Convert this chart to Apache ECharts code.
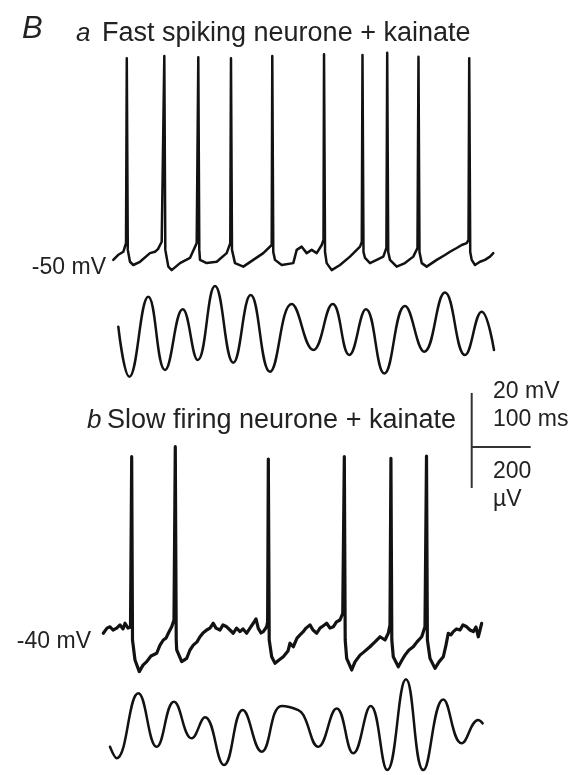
<!DOCTYPE html>
<html>
<head>
<meta charset="utf-8">
<script src="https://cdn.jsdelivr.net/npm/echarts@6/dist/echarts.min.js"></script>
<style>
  html, body { margin: 0; padding: 0; background: #fff; }
  #chart { width: 577px; height: 775px; }
</style>
</head>
<body>
<div id="chart"></div>
<script>
// Membrane potential (ms, mV) of a fast spiking neurone in kainate
const fastVm = [
  [22.5,-48.1],[30.5,-46.3],[39.5,-45.1],[44.1,-41.9],[45.4,26.6],[47.1,-44.4],
  [50.8,-48.8],[56.4,-50.0],[67.8,-48.8],[84.7,-45.6],[93.2,-45.1],[98.3,-44.1],
  [104.6,-41.4],[109.0,27.4],[110.7,-44.4],[115.8,-50.6],[121.5,-51.9],[135.6,-49.3],
  [152.5,-47.4],[163.9,-41.9],[166.6,26.9],[168.3,-44.4],[169.5,-48.1],[180.8,-49.3],
  [197.8,-48.8],[214.7,-45.6],[220.8,-41.9],[222.0,26.6],[223.7,-44.4],[228.8,-49.3],
  [242.9,-50.6],[259.8,-48.1],[276.8,-45.6],[291.0,-42.6],[292.0,27.4],[293.7,-45.2],
  [296.6,-48.1],[308.0,-50.0],[327.6,-49.3],[333.4,-44.4],[341.9,-43.2],[350.3,-45.6],
  [358.8,-44.4],[367.3,-45.6],[375.8,-42.6],[378.8,-40.7],[379.7,28.1],[381.4,-45.2],
  [384.2,-49.3],[392.7,-51.9],[406.8,-50.0],[423.7,-46.9],[440.7,-43.2],[443.7,-41.5],
  [444.9,27.8],[446.6,-45.2],[449.2,-47.4],[457.6,-49.3],[469.0,-48.1],[480.2,-46.9],
  [485.4,-43.7],[486.8,28.6],[488.5,-45.2],[491.5,-48.1],[502.9,-50.6],[516.9,-49.3],
  [531.0,-46.9],[538.1,-43.7],[539.8,27.1],[541.5,-45.2],[545.3,-49.3],[553.7,-50.6],
  [570.7,-48.1],[584.7,-46.3],[593.2,-45.1],[604.6,-43.7],[613.1,-42.6],[621.5,-41.9],
  [624.6,-40.7],[625.8,26.6],[627.5,-45.2],[630.0,-48.1],[635.6,-50.0],[644.1,-48.8],
  [652.5,-48.1],[661.0,-46.9],[666.6,-45.6]
];

// Field potential (ms, µV) recorded alongside the fast spiking neurone
const fastField = [
  [31.0,31],[49.7,-213],[81.9,177],[110.2,-180],[140.2,116],[165.6,-132],
  [194.9,229],[225.9,-145],[255.4,185],[288.1,-189],[324.9,141],[361.5,-83],
  [394.4,141],[422.5,-107],[450.8,116],[481.9,-197],[516.9,132],[549.7,-91],
  [584.7,197],[618.6,-107],[646.9,104],[667.8,-83]
];

// Membrane potential (ms, mV) of a slow firing neurone in kainate
const slowVm = [
  [5.6,-37.5],[11.9,-35.6],[16.9,-35.1],[22.0,-36.3],[28.3,-35.6],[33.9,-34.4],
  [39.0,-35.9],[42.4,-33.8],[47.5,-35.6],[51.7,-35.2],[53.7,27.9],[55.1,-40.0],
  [59.3,-47.4],[66.6,-51.7],[72.9,-49.3],[79.2,-48.0],[86.4,-45.9],[96.1,-44.9],
  [101.7,-41.9],[107.3,-40.0],[111.9,-39.3],[115.8,-37.5],[121.5,-35.1],[125.4,-32.6],
  [127.6,31.6],[129.2,-40.0],[130.0,-43.7],[138.5,-48.0],[146.9,-46.8],[152.5,-43.7],
  [158.1,-41.9],[164.4,-40.7],[169.5,-38.8],[174.6,-37.4],[180.8,-36.3],[186.4,-35.6],
  [192.0,-33.8],[196.6,-35.6],[203.4,-36.3],[208.5,-34.4],[214.7,-35.1],[220.3,-36.3],
  [225.9,-37.5],[231.4,-35.6],[237.3,-36.9],[242.4,-35.9],[248.6,-37.5],[254.2,-35.6],
  [259.8,-33.8],[264.4,-32.2],[268.3,-35.7],[272.9,-37.4],[276.8,-36.9],[282.5,-35.1],
  [284.1,-33.3],[285.3,27.0],[286.8,-40.0],[291.0,-46.2],[296.6,-48.6],[303.4,-47.4],
  [310.7,-46.2],[318.6,-44.1],[322.0,-41.2],[327.6,-42.5],[333.9,-39.3],[339.0,-38.1],
  [344.1,-37.0],[349.2,-35.6],[355.9,-34.4],[361.0,-36.3],[367.3,-37.5],[372.9,-35.6],
  [378.0,-34.8],[384.2,-33.8],[389.8,-35.6],[395.4,-35.1],[400.8,-33.3],[406.8,-32.6],
  [411.4,-30.1],[414.1,27.9],[415.6,-40.0],[418.1,-46.8],[426.6,-51.1],[432.2,-48.1],
  [440.7,-45.6],[447.5,-44.4],[457.6,-42.5],[466.1,-40.7],[474.6,-38.8],[483.1,-40.0],
  [488.6,-37.5],[491.5,-34.4],[493.1,27.3],[494.6,-40.0],[497.1,-46.2],[505.6,-49.9],
  [511.9,-47.4],[516.9,-45.6],[523.7,-43.7],[531.0,-42.5],[537.3,-40.7],[545.3,-38.8],
  [550.8,-35.1],[553.4,28.1],[554.9,-40.0],[559.3,-46.8],[567.8,-50.5],[574.6,-48.1],
  [581.9,-46.2],[586.4,-41.9],[590.3,-37.5],[594.9,-38.1],[598.8,-36.9],[604.2,-35.9],
  [610.2,-36.3],[615.3,-34.4],[621.5,-35.1],[627.1,-36.3],[632.7,-36.9],[637.3,-35.2],
  [641.2,-38.8],[644.1,-36.3],[646.9,-33.8]
];

// Field potential (ms, µV) recorded alongside the slow firing neurone
const slowField = [
  [16.9,-106],[28.3,-162],[64.9,155],[96.1,-106],[125.4,114],[155.4,-65],
  [178.0,38],[210.2,-195],[241.9,73],[274.1,-130],[308.0,93],[336.1,73],
  [344.6,49],[370.0,-106],[401.2,81],[429.3,-138],[458.8,93],[486.9,-220],
  [518.6,223],[548.0,-220],[581.9,125],[613.1,-89],[641.2,24],[648.6,8]
];

// Text
const panelLetter = 'B';
const traceTitles = [
  ['a', 'Fast spiking neurone + kainate'],
  ['b', 'Slow firing neurone + kainate']
];
const holdingLabels = ['-50 mV', '-40 mV'];
const holdingLevels = [-50, -40];
const scaleLabels = ['20 mV', '100 ms', '200', 'µV'];
const scaleValues = { mV: 20, ms: 100, uV: 200 };

// Drawing scales (pixels per unit) and panel layout
const MS_PX = 0.59, MV_PX = 2.7, UV_PX = 0.205;
const LEFT = 100, T_MAX = 680;
const VM_A = { min: -60, max: 30, top: 49 };
const FIELD_A = { min: -250, max: 250, top: 281.75 };
const VM_B = { min: -60, max: 40, top: 424 };
const FIELD_B = { min: -250, max: 250, top: 673.75 };

const FONT = '"Liberation Sans", Arial, Helvetica, sans-serif';
const INK = '#121212';
const TEXT = '#222222';

function gridFor(p, pxPerUnit) {
  return {
    left: LEFT, top: p.top,
    width: T_MAX * MS_PX, height: (p.max - p.min) * pxPerUnit,
    outerBoundsMode: 'none', containLabel: false
  };
}

const panels = [
  { p: VM_A, k: MV_PX, data: fastVm, w: 2.5 },
  { p: FIELD_A, k: UV_PX, data: fastField, w: 2.5, smooth: 0.45 },
  { p: VM_B, k: MV_PX, data: slowVm, w: 3.2 },
  { p: FIELD_B, k: UV_PX, data: slowField, w: 2.5, smooth: 0.45 }
];

const chart = echarts.init(document.getElementById('chart'), null, { renderer: 'canvas' });

chart.setOption({
  animation: false,
  backgroundColor: '#ffffff',
  grid: panels.map(d => gridFor(d.p, d.k)),
  xAxis: panels.map((d, i) => ({
    type: 'value', gridIndex: i, min: 0, max: T_MAX, show: false
  })),
  yAxis: panels.map((d, i) => ({
    type: 'value', gridIndex: i, min: d.p.min, max: d.p.max, show: false
  })),
  series: panels.map((d, i) => ({
    type: 'line', xAxisIndex: i, yAxisIndex: i,
    data: d.data, showSymbol: false, symbol: 'none',
    smooth: d.smooth || false, clip: false,
    lineStyle: { color: INK, width: d.w, join: 'round', cap: 'round' }
  }))
});

// y pixel of a value on a given panel
function yPix(idx, v) {
  return chart.convertToPixel({ gridIndex: idx }, [0, v])[1];
}

function txt(text, x, y, size, opts) {
  opts = opts || {};
  return {
    type: 'text', x: x, y: y, silent: true,
    style: {
      text: text,
      font: (opts.italic ? 'italic ' : '') + size + 'px ' + FONT,
      fill: TEXT,
      align: opts.align || 'left',
      verticalAlign: 'middle'
    }
  };
}

// Scale bar anchored in the slow-firing panel
const barX = LEFT + 630 * MS_PX;
const barY = yPix(2, 31.5);
const barUp = scaleValues.mV * MV_PX;
const barDown = scaleValues.uV * UV_PX;
const barLen = scaleValues.ms * MS_PX;

chart.setOption({
  graphic: [
    txt(panelLetter, 22, 29, 31, { italic: true }),
    txt(traceTitles[0][0], 76, 34, 26, { italic: true }),
    txt(traceTitles[0][1], 102, 34, 27),
    txt(traceTitles[1][0], 87, 421, 26, { italic: true }),
    txt(traceTitles[1][1], 107, 421, 27),
    txt(holdingLabels[0], 106, yPix(0, holdingLevels[0]) + 3, 23, { align: 'right' }),
    txt(holdingLabels[1], 91, yPix(2, holdingLevels[1]) + 2, 23, { align: 'right' }),
    txt(scaleLabels[0], 493, 392, 23),
    txt(scaleLabels[1], 493, 420, 23),
    txt(scaleLabels[2], 493, 472, 23),
    txt(scaleLabels[3], 493, 500, 23),
    {
      type: 'line', silent: true,
      shape: { x1: barX, y1: barY - barUp, x2: barX, y2: barY + barDown },
      style: { stroke: '#333', lineWidth: 2 }
    },
    {
      type: 'line', silent: true,
      shape: { x1: barX, y1: barY, x2: barX + barLen, y2: barY },
      style: { stroke: '#333', lineWidth: 2 }
    }
  ]
});
</script>
</body>
</html>
